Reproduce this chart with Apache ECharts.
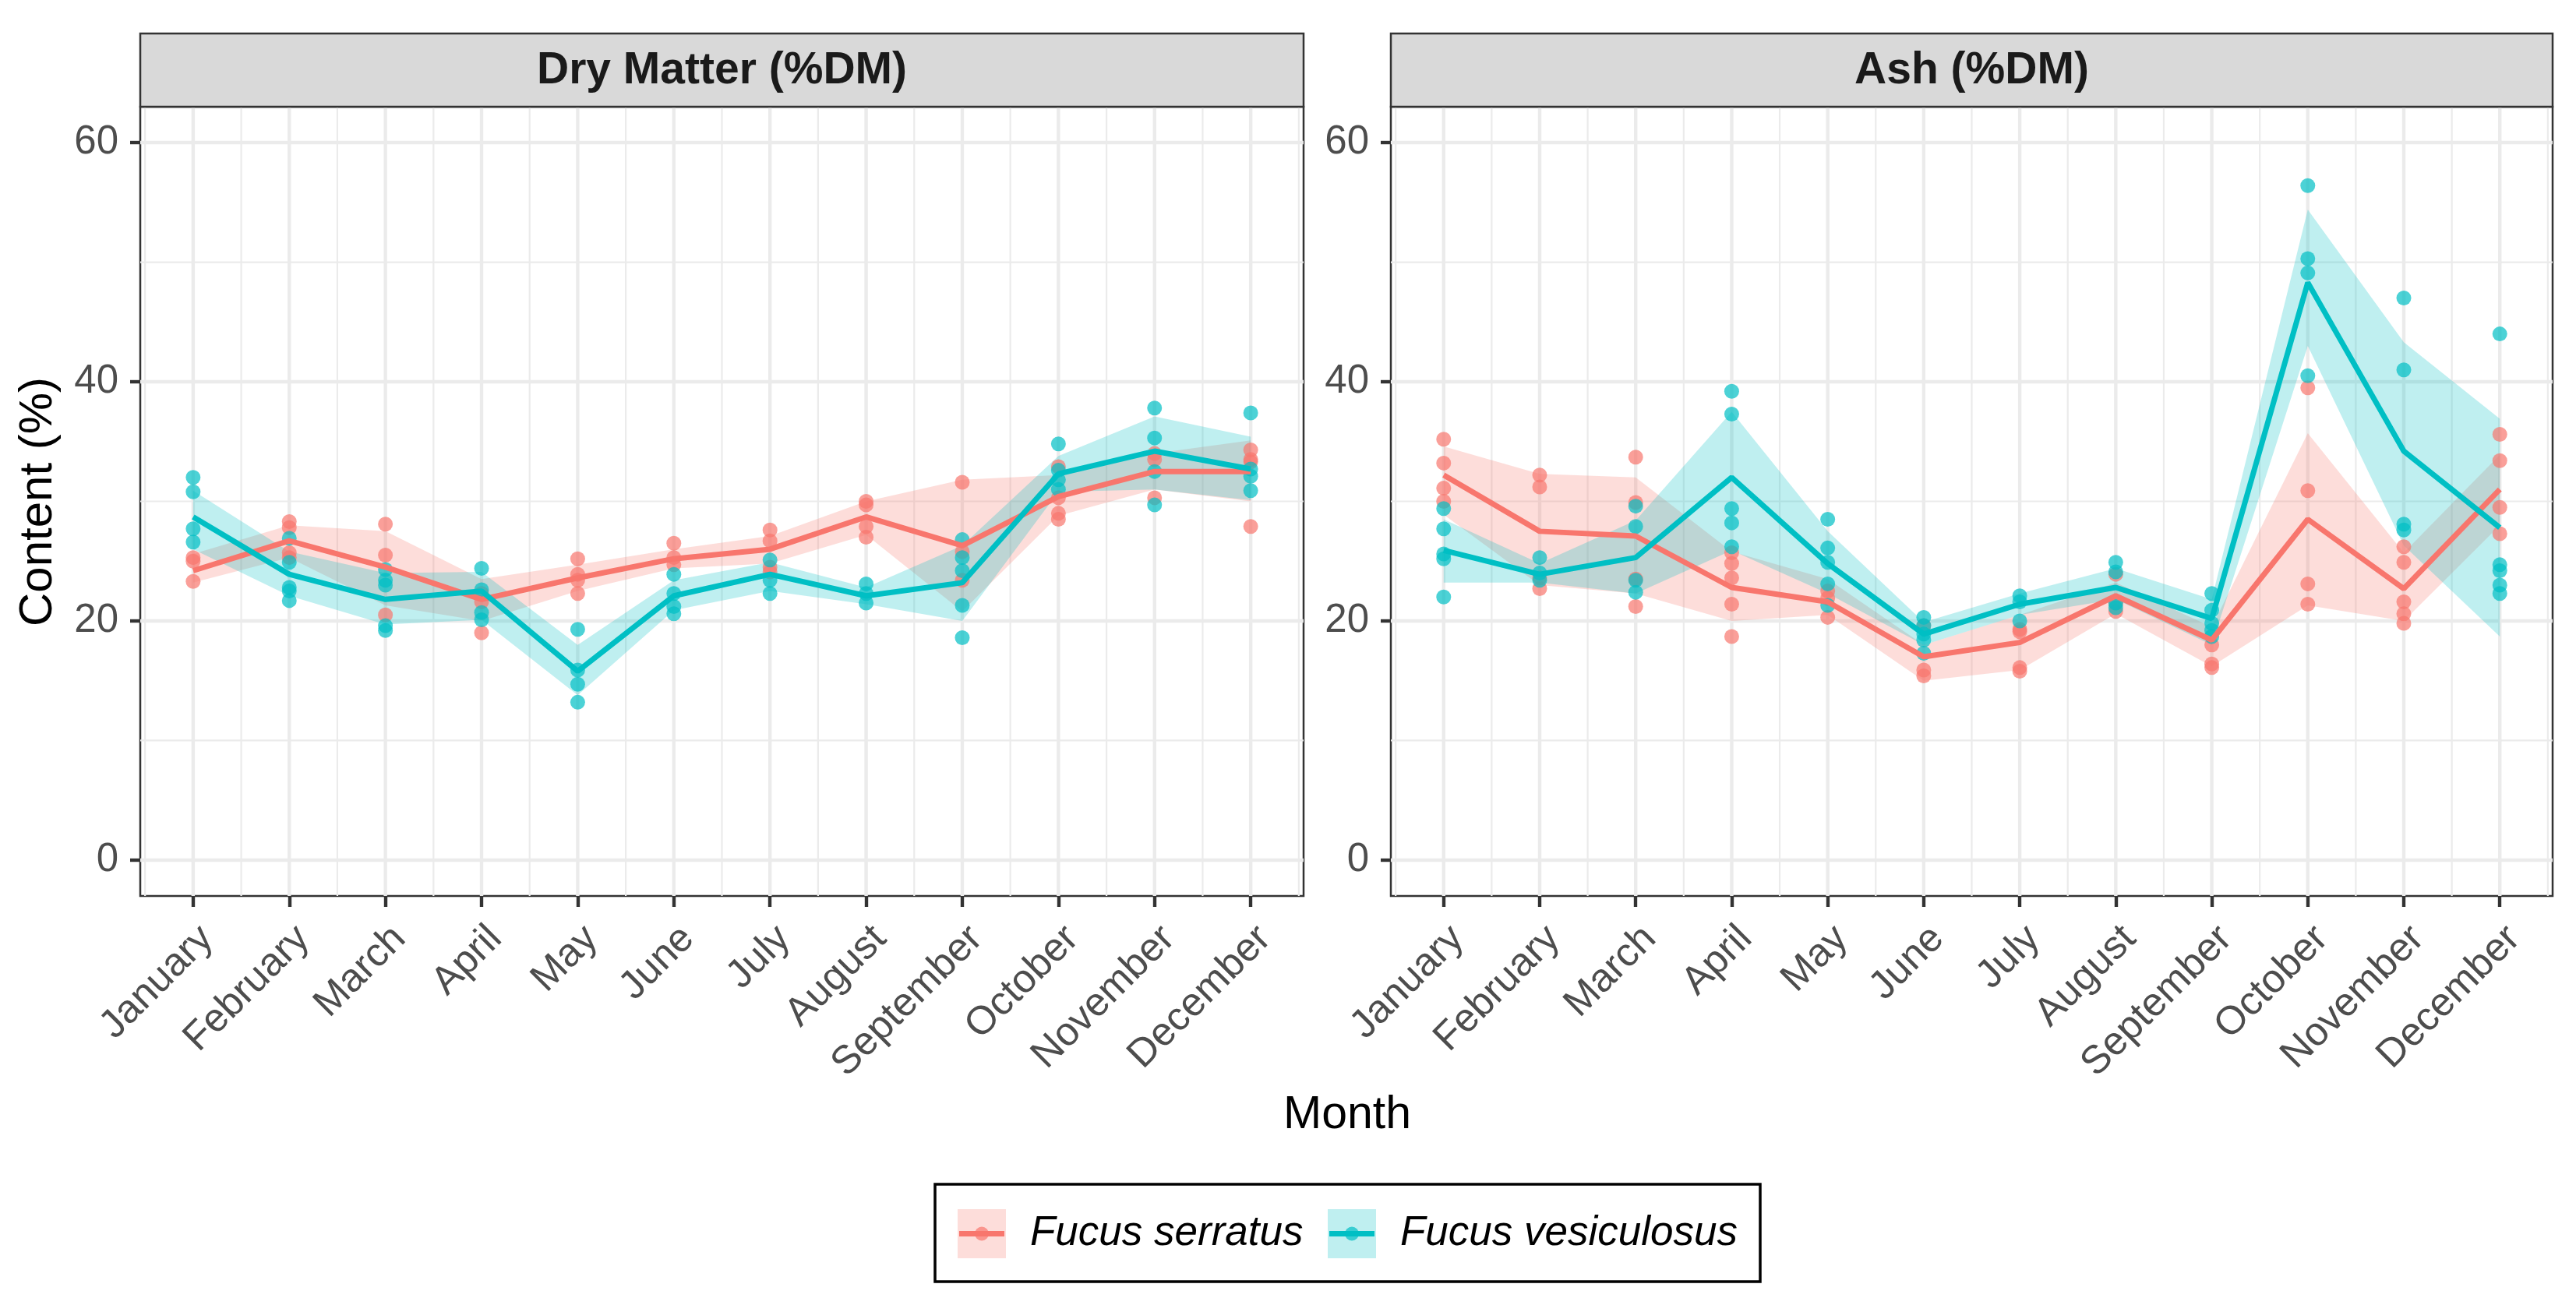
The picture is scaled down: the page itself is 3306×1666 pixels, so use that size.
<!DOCTYPE html>
<html><head><meta charset="utf-8">
<script src="https://cdn.jsdelivr.net/npm/echarts@6/dist/echarts.min.js"></script>
<style>html,body{margin:0;padding:0;background:#fff}#c{width:3306px;height:1666px}</style>
</head><body><div id="c"></div>
<script>
const months = ['January','February','March','April','May','June','July','August','September','October','November','December'];
const monthNums = [1,2,3,4,5,6,7,8,9,10,11,12];
const panelTitles = ['Dry Matter (%DM)', 'Ash (%DM)'];
const speciesNames = ['Fucus serratus', 'Fucus vesiculosus'];
const yTicks = [0, 20, 40, 60];
const yMinor = [10, 30, 50];
const xMinor = [0.5,1.5,2.5,3.5,4.5,5.5,6.5,7.5,8.5,9.5,10.5,11.5,12.5];

// Dry matter - Fucus serratus
const dmSerMean = [24.2, 26.7, 24.5, 21.8, 23.6, 25.2, 26.0, 28.7, 26.3, 30.4, 32.5, 32.5];
const dmSerLo   = [23.2, 25.3, 21.3, 20.0, 22.5, 24.4, 24.8, 27.2, 20.8, 28.8, 31.0, 30.0];
const dmSerHi   = [25.6, 28.0, 27.5, 23.5, 24.7, 26.0, 27.1, 30.0, 31.8, 32.2, 34.0, 35.1];
const dmSerPts  = [[25.3,25.0,23.3],[28.3,27.8,25.7,25.3],[28.1,25.5,20.5],[22.3,21.6,19.0],[25.2,23.9,23.4,22.3],[26.5,25.3,24.7],[27.6,26.7,24.5,24.1],[30.0,29.7,27.9,27.0],[31.6,25.8,23.4],[32.9,30.3,29.0,28.5],[34.0,33.5,30.3],[34.3,33.5,33.3,27.9]];
// Dry matter - Fucus vesiculosus
const dmVesMean = [28.7, 23.9, 21.8, 22.5, 15.8, 22.1, 23.9, 22.1, 23.2, 32.3, 34.2, 32.7];
const dmVesLo   = [26.0, 22.1, 19.7, 20.1, 13.8, 20.9, 22.5, 21.4, 20.0, 30.8, 31.0, 30.1];
const dmVesHi   = [30.9, 25.8, 24.0, 24.1, 18.0, 23.4, 24.9, 22.8, 26.3, 33.8, 37.1, 35.4];
const dmVesPts  = [[32.0,30.8,27.7,26.6],[26.9,24.9,22.8,22.5,21.7],[24.3,23.4,23.0,19.6,19.2],[24.4,22.6,20.7,20.1],[19.3,15.9,14.7,13.2],[23.9,22.3,21.2,20.6],[25.1,23.4,22.3],[23.1,22.3,21.5],[26.8,25.3,24.2,21.3,18.6],[34.8,32.6,31.8,31.0],[37.8,35.3,32.5,29.7],[37.4,32.7,32.1,30.9]];
// Ash - Fucus serratus
const ashSerMean = [32.2, 27.5, 27.1, 22.8, 21.6, 17.0, 18.2, 22.1, 18.4, 28.5, 22.7, 31.0];
const ashSerLo   = [28.9, 23.0, 22.3, 20.0, 20.5, 15.0, 15.9, 20.6, 16.2, 21.3, 20.0, 28.0];
const ashSerHi   = [34.6, 32.3, 32.0, 25.8, 23.5, 18.0, 20.5, 23.2, 19.5, 35.7, 25.7, 33.9];
const ashSerPts  = [[35.2,33.2,31.1,30.0],[32.2,31.2,23.6,22.7],[33.7,29.9,23.5,21.2],[25.7,24.8,23.6,21.4,18.7],[22.5,21.9,20.3],[19.6,15.9,15.4],[19.3,19.1,16.1,15.8],[23.9,21.5,20.8],[18.0,16.4,16.1],[39.5,30.9,23.1,21.4],[26.2,24.9,21.6,20.6,19.8],[35.6,33.4,29.5,27.3]];
// Ash - Fucus vesiculosus
const ashVesMean = [25.9, 23.9, 25.3, 32.0, 24.8, 18.9, 21.4, 22.8, 20.2, 48.3, 34.2, 27.8];
const ashVesLo   = [23.2, 23.2, 22.3, 25.9, 22.3, 18.0, 20.5, 21.8, 18.0, 43.0, 26.3, 18.7];
const ashVesHi   = [28.5, 24.8, 28.4, 37.5, 27.5, 19.9, 22.3, 24.4, 21.8, 54.4, 43.3, 36.9];
const ashVesPts  = [[29.4,27.7,25.6,25.2,22.0],[25.3,24.0,23.4],[29.6,27.9,23.4,22.4],[39.2,37.3,29.4,28.2,26.2],[28.5,26.1,24.9,23.1,21.3],[20.3,19.6,18.9,18.4,17.3],[22.1,21.6,20.0],[24.9,24.1,21.5,21.1],[22.3,20.9,19.8,19.2,18.7],[56.4,50.3,49.1,40.5],[47.0,41.0,28.1,27.6],[44.0,24.7,24.2,23.0,22.3]];

const RED = '#F8766D', CYAN = '#00BFC4';
const RED_FILL = 'rgba(248,118,109,0.25)', CYAN_FILL = 'rgba(0,191,196,0.25)';
const FONT = 'Liberation Sans';
const X_MIN = 0.45, X_MAX = 12.55, Y_MIN = -3, Y_MAX = 63;

const panels = [
  {ser: [dmSerMean, dmSerLo, dmSerHi, dmSerPts], ves: [dmVesMean, dmVesLo, dmVesHi, dmVesPts]},
  {ser: [ashSerMean, ashSerLo, ashSerHi, ashSerPts], ves: [ashVesMean, ashVesLo, ashVesHi, ashVesPts]}
];
const gridBoxes = [{left: 180, top: 137, width: 1493, height: 1013}, {left: 1785, top: 137, width: 1491, height: 1013}];

function gridLinesSeries(gi) {
  return {type: 'custom', xAxisIndex: gi, yAxisIndex: gi, z: 1, silent: true, data: [[6, 30]],
    renderItem: (params, api) => {
      const ch = [];
      const vline = (x, w) => { const a = api.coord([x, Y_MIN]), b = api.coord([x, Y_MAX]);
        ch.push({type: 'line', shape: {x1: a[0], y1: a[1], x2: b[0], y2: b[1]}, style: {stroke: '#EBEBEB', lineWidth: w}}); };
      const hline = (y, w) => { const a = api.coord([X_MIN, y]), b = api.coord([X_MAX, y]);
        ch.push({type: 'line', shape: {x1: a[0], y1: a[1], x2: b[0], y2: b[1]}, style: {stroke: '#EBEBEB', lineWidth: w}}); };
      xMinor.forEach(x => vline(x, 2.2));
      yMinor.forEach(y => hline(y, 2.2));
      monthNums.forEach(x => vline(x, 4.4));
      yTicks.forEach(y => hline(y, 4.4));
      return {type: 'group', children: ch};
    }};
}
function ribbonSeries(gi, lo, hi, fill, name) {
  return {type: 'custom', name, xAxisIndex: gi, yAxisIndex: gi, z: 2, silent: true, data: [[6, 30]],
    renderItem: (params, api) => {
      const pts = [];
      for (let i = 0; i < monthNums.length; i++) pts.push(api.coord([monthNums[i], hi[i]]));
      for (let i = monthNums.length - 1; i >= 0; i--) pts.push(api.coord([monthNums[i], lo[i]]));
      return {type: 'polygon', shape: {points: pts}, style: {fill}};
    }};
}
function pointSeries(gi, pts, color, name) {
  const data = [];
  pts.forEach((arr, i) => arr.forEach(v => data.push([monthNums[i], v])));
  return {type: 'scatter', name, xAxisIndex: gi, yAxisIndex: gi, z: 3, data, symbolSize: 19,
    itemStyle: {color, opacity: 0.7}, silent: true};
}
function lineSeries(gi, mean, color, name) {
  return {type: 'line', name, xAxisIndex: gi, yAxisIndex: gi, z: 4, showSymbol: false, symbol: 'none',
    data: monthNums.map((m, i) => [m, mean[i]]), lineStyle: {color, width: 7}, silent: true};
}

const series = [];
panels.forEach((p, gi) => {
  series.push(gridLinesSeries(gi));
  series.push(ribbonSeries(gi, p.ser[1], p.ser[2], RED_FILL, speciesNames[0]));
  series.push(ribbonSeries(gi, p.ves[1], p.ves[2], CYAN_FILL, speciesNames[1]));
  series.push(pointSeries(gi, p.ser[3], RED, speciesNames[0]));
  series.push(pointSeries(gi, p.ves[3], CYAN, speciesNames[1]));
  series.push(lineSeries(gi, p.ser[0], RED, speciesNames[0]));
  series.push(lineSeries(gi, p.ves[0], CYAN, speciesNames[1]));
});

const grids = gridBoxes.map(b => Object.assign({show: true, borderColor: '#333333', borderWidth: 2.5, backgroundColor: '#FFFFFF', containLabel: false}, b));
const xAxes = gridBoxes.map((b, gi) => ({
  type: 'value', gridIndex: gi, min: X_MIN, max: X_MAX, position: 'bottom',
  axisLine: {show: false, onZero: false}, splitLine: {show: false}, minorTick: {show: false}, minorSplitLine: {show: false},
  axisTick: {show: true, customValues: monthNums, length: 14, lineStyle: {color: '#333333', width: 4.4}},
  axisLabel: {customValues: monthNums, formatter: v => months[Math.round(v) - 1], rotate: 45, align: 'right', verticalAlign: 'top',
    margin: 29, fontSize: 51, color: '#4D4D4D', fontFamily: FONT}
}));
const yAxes = gridBoxes.map((b, gi) => ({
  type: 'value', gridIndex: gi, min: Y_MIN, max: Y_MAX, position: 'left',
  axisLine: {show: false, onZero: false}, splitLine: {show: false}, minorTick: {show: false}, minorSplitLine: {show: false},
  axisTick: {show: true, customValues: yTicks, length: 13, lineStyle: {color: '#333333', width: 4.4}},
  axisLabel: {customValues: yTicks, margin: 28, fontSize: 51, color: '#4D4D4D', fontFamily: FONT}
}));

const graphic = [];
gridBoxes.forEach((b, gi) => {
  graphic.push({type: 'rect', shape: {x: b.left, y: 43, width: b.width, height: 94}, style: {fill: '#D9D9D9', stroke: '#333333', lineWidth: 2.5}, z: 10});
  graphic.push({type: 'text', x: b.left + b.width / 2, y: 91, style: {text: panelTitles[gi], align: 'center', verticalAlign: 'middle', font: 'bold 57px "Liberation Sans"', fill: '#1A1A1A'}, z: 11});
});
graphic.push({type: 'text', x: 49, y: 644, rotation: Math.PI / 2, style: {text: 'Content (%)', align: 'center', verticalAlign: 'middle', font: '60px "Liberation Sans"', fill: '#000000'}});
graphic.push({type: 'text', x: 1729, y: 1432, style: {text: 'Month', align: 'center', verticalAlign: 'middle', font: '59px "Liberation Sans"', fill: '#000000'}});
// legend
graphic.push({type: 'rect', shape: {x: 1200, y: 1520, width: 1059, height: 125}, style: {fill: '#FFFFFF', stroke: '#000000', lineWidth: 3.5}});
const legendKeys = [{x: 1229, fill: RED_FILL, color: RED, tx: 1322}, {x: 1704, fill: CYAN_FILL, color: CYAN, tx: 1797}];
legendKeys.forEach((k, i) => {
  graphic.push({type: 'rect', shape: {x: k.x, y: 1552, width: 62, height: 63}, style: {fill: k.fill}});
  graphic.push({type: 'line', shape: {x1: k.x + 2, y1: 1583.5, x2: k.x + 60, y2: 1583.5}, style: {stroke: k.color, lineWidth: 7}});
  graphic.push({type: 'circle', shape: {cx: k.x + 31, cy: 1583.5, r: 9}, style: {fill: k.color, opacity: 0.7}});
  graphic.push({type: 'text', x: k.tx, y: 1583.5, style: {text: speciesNames[i], align: 'left', verticalAlign: 'middle', font: 'italic 53px "Liberation Sans"', fill: '#000000'}});
});

const chart = echarts.init(document.getElementById('c'), null, {renderer: 'canvas', width: 3306, height: 1666});
chart.setOption({
  animation: false,
  backgroundColor: '#FFFFFF',
  grid: grids, xAxis: xAxes, yAxis: yAxes, series, graphic
});
</script></body></html>
